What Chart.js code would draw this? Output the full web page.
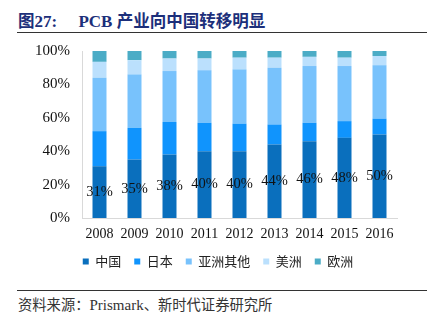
<!DOCTYPE html>
<html>
<head>
<meta charset="utf-8">
<script src="https://cdn.jsdelivr.net/npm/chart.js@4"></script>
<style>
  body { margin: 0; width: 436px; height: 324px; background: #fff; position: relative; overflow: hidden; }
  #title { position: absolute; left: 18px; top: 8px; font: bold 17px "Liberation Serif", "Noto Sans CJK SC", serif; color: #1c2f7a; white-space: pre; }
  #title .cn { font-family: "Noto Sans CJK SC", sans-serif; font-size: 16.5px; }
  #rule1 { position: absolute; left: 17px; width: 410px; top: 32px; border-top: 1px solid #333; }
  #rule2 { position: absolute; left: 17px; width: 410px; top: 290px; border-top: 1px solid #333; }
  #source { position: absolute; left: 18px; top: 293px; font: 15px "Liberation Serif", "Noto Sans CJK SC", serif; color: #333; }
  #source .cn { font-family: "Noto Sans CJK SC", sans-serif; font-size: 14.3px; }
  #wrap { position: absolute; left: 0; top: 30px; width: 436px; height: 248px; }
</style>
</head>
<body>
<div id="title"><span class="cn">图</span>27:     PCB <span class="cn">产业向中国转移明显</span></div>
<div id="rule1"></div>
<div id="wrap"><canvas id="chart"></canvas></div>
<div id="rule2"></div>
<div id="source"><span class="cn">资料来源：</span>Prismark<span class="cn">、新时代证券研究所</span></div>
<script>
// 数据
const years = ['2008', '2009', '2010', '2011', '2012', '2013', '2014', '2015', '2016'];
const china = [31, 35, 38, 40, 40, 44, 46, 48, 50];
const japan = [21, 19, 19.5, 17, 16.5, 12, 11, 10, 9.5];
const otherAsia = [32, 32, 30.5, 31.5, 32.5, 34, 34, 33, 32];
const americas = [9.5, 8.5, 7.5, 7, 7, 6, 5.5, 5, 5.5];
const europe = [6.5, 5.5, 4.5, 4.5, 4, 4, 3.5, 4, 3];
const yTicks = [0, 20, 40, 60, 80, 100];

// 中国柱子中间的数值标签
const chinaLabels = {
    id: 'chinaLabels',
    afterDatasetsDraw(chart) {
        const ctx = chart.ctx;
        const meta = chart.getDatasetMeta(0);
        ctx.save();
        ctx.font = '14.5px "Liberation Serif", serif';
        ctx.fillStyle = '#111';
        ctx.textAlign = 'center';
        ctx.textBaseline = 'middle';
        meta.data.forEach((bar, i) => {
            ctx.fillText(china[i] + '%', bar.x, (bar.y + bar.base) / 2);
        });
        ctx.restore();
    }
};

const ctx = document.getElementById('chart').getContext('2d');
new Chart(ctx, {
    type: 'bar',
    data: {
        labels: years,
        datasets: [
            { label: '中国', data: china, backgroundColor: '#0a6fbd' },
            { label: '日本', data: japan, backgroundColor: '#1094fd' },
            { label: '亚洲其他', data: otherAsia, backgroundColor: '#78c2fc' },
            { label: '美洲', data: americas, backgroundColor: '#bbe0fd' },
            { label: '欧洲', data: europe, backgroundColor: '#4bacc6' }
        ]
    },
    options: {
        responsive: true,
        maintainAspectRatio: false,
        animation: false,
        layout: { padding: { left: 0, right: 0, top: 4, bottom: 0 } },
        datasets: { bar: { categoryPercentage: 1, barPercentage: 0.4 } },
        scales: {
            x: {
                stacked: true,
                afterFit(axis) { axis.height = 24; },
                grid: { display: false, drawTicks: false },
                border: { color: '#d9d9d9' },
                ticks: { color: '#111', font: { family: '"Liberation Serif", serif', size: 14 }, padding: 8, maxRotation: 0 }
            },
            y: {
                stacked: true,
                min: 0,
                max: 100,
                afterFit(axis) { axis.width = 82; },
                afterBuildTicks(axis) { axis.ticks = yTicks.map(v => ({ value: v })); },
                grid: { display: false, drawTicks: false },
                border: { color: '#d9d9d9' },
                ticks: {
                    color: '#111',
                    font: { family: '"Liberation Serif", serif', size: 15 },
                    padding: 12,
                    callback: v => v + '%'
                }
            },
            // 右侧留白
            yRight: {
                position: 'right',
                display: true,
                afterFit(axis) { axis.width = 39; },
                grid: { display: false, drawTicks: false },
                border: { display: false },
                ticks: { display: false }
            }
        },
        plugins: {
            legend: {
                position: 'bottom',
                labels: {
                    boxWidth: 6,
                    boxHeight: 6,
                    padding: 13,
                    color: '#222',
                    font: { family: '"Noto Sans CJK SC", sans-serif', size: 13 }
                }
            },
            tooltip: { enabled: false }
        }
    },
    plugins: [chinaLabels]
});
</script>
</body>
</html>
